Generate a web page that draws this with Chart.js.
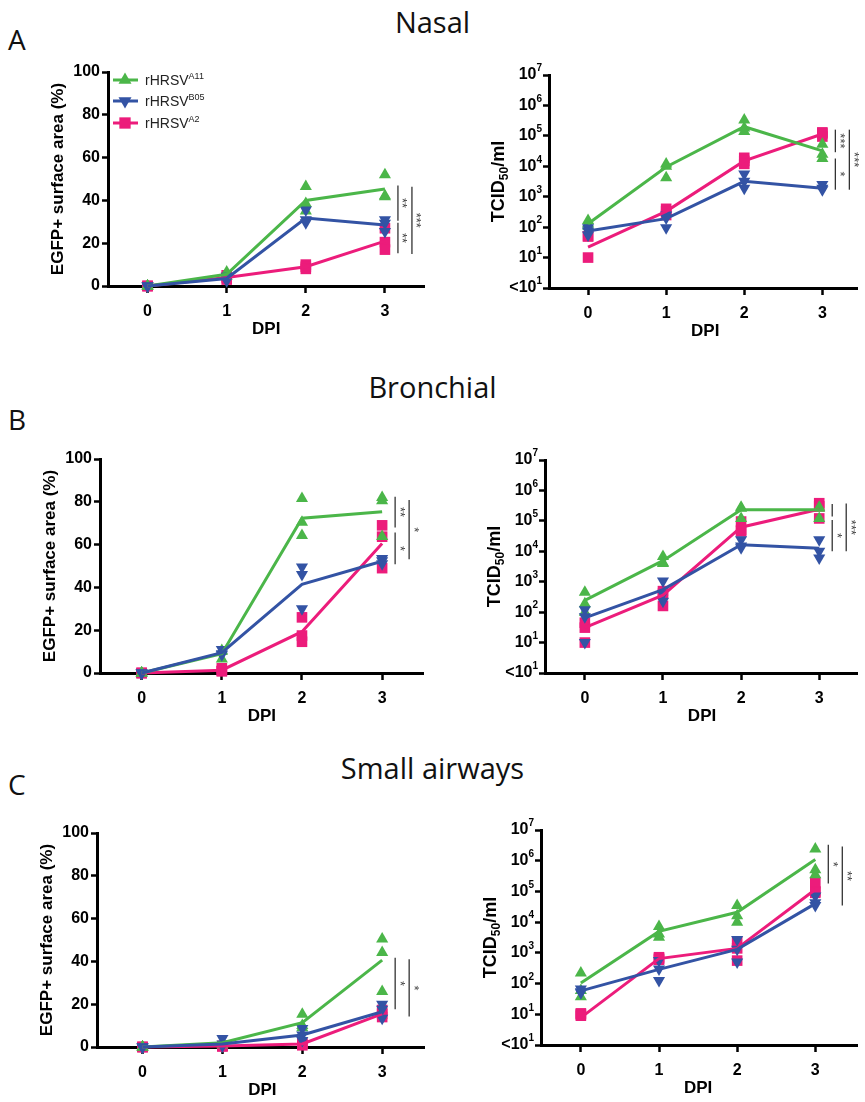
<!DOCTYPE html>
<html>
<head>
<meta charset="utf-8">
<title>rHRSV in nasal, bronchial and small airway cultures</title>
<script src="https://cdn.jsdelivr.net/npm/chart.js@4.4.1/dist/chart.umd.min.js"></script>
<style>
  body { margin: 0; background: #fff; }
  #figure { position: relative; width: 865px; height: 1102px; overflow: hidden; font-family: "Open Sans", sans-serif; color: #111; }
  #figure canvas { position: absolute; }
  .rowTitle { position: absolute; left: 0; width: 865px; text-align: center; font-size: 29px; line-height: 1; }
  .panelLetter { position: absolute; left: 8px; font-size: 28px; line-height: 1; }
</style>
</head>
<body>
<div id="figure">
  <div class="panelLetter" style="top:25px">A</div>
  <div class="rowTitle" style="top:7px">Nasal</div>
  <div class="panelLetter" style="top:405px">B</div>
  <div class="rowTitle" style="top:372px">Bronchial</div>
  <div class="panelLetter" style="top:770px">C</div>
  <div class="rowTitle" style="top:753px">Small airways</div>

  <canvas id="nasalEgfp"></canvas>
  <canvas id="nasalTcid"></canvas>
  <canvas id="bronchialEgfp"></canvas>
  <canvas id="bronchialTcid"></canvas>
  <canvas id="smallEgfp"></canvas>
  <canvas id="smallTcid"></canvas>
</div>
<script>
// days post infection and axis ticks
const dpi = [0, 1, 2, 3];
const strainNames = ['A11', 'B05', 'A2'];
const xTickValues = [0, 1, 2, 3];
const egfpTickValues = [0, 20, 40, 60, 80, 100];
const tcidTickValues = [1, 10, 100, 1e3, 1e4, 1e5, 1e6, 1e7];

// Nasal - EGFP+ surface area (%)
const nasalEgfpA11Mean = [0, 5.5, 40, 45.3];
const nasalEgfpA11Reps = [[0, 0, 0], [6.5, 5.5, 4.5], [46.5, 38.5, 35], [52, 42.2, 41.7]];
const nasalEgfpB05Mean = [0, 3.5, 31.8, 28.5];
const nasalEgfpB05Reps = [[0, 0, 0], [4.5, 3.5, 2.5], [35.5, 31, 29.5], [31, 29.3, 25.5]];
const nasalEgfpA2Mean = [0, 4, 9, 21];
const nasalEgfpA2Reps = [[0, 0, 0], [5, 4, 3], [10, 9, 8], [27, 20.5, 17]];

// Nasal - TCID50/ml
const nasalTcidA11Mean = [130, 9500, 2.0e5, 3.2e4];
const nasalTcidA11Reps = [[165, 130, 110], [1.2e4, 1.0e4, 4.2e3], [3.3e5, 1.8e5, 1.4e5], [5.3e4, 2.5e4, 1.8e4]];
const nasalTcidB05Mean = [75, 190, 3.2e3, 1.9e3];
const nasalTcidB05Reps = [[95, 75, 55], [250, 200, 95], [5.6e3, 3.2e3, 1.9e3], [2.5e3, 1.9e3, 1.7e3]];
const nasalTcidA2Mean = [22, 330, 1.5e4, 1.15e5];
const nasalTcidA2Reps = [[50, 50, 10], [400, 330, 250], [1.9e4, 1.5e4, 1.2e4], [1.3e5, 1.2e5, 9.5e4]];

// Bronchial - EGFP+ surface area (%)
const bronchialEgfpA11Mean = [0, 9, 72.3, 75.4];
const bronchialEgfpA11Reps = [[0, 0, 0], [10.5, 10, 6.5], [81.5, 70.5, 64.2], [82, 80.5, 63.8]];
const bronchialEgfpB05Mean = [0, 9.5, 41.4, 52.2];
const bronchialEgfpB05Reps = [[0, 0, 0], [11, 9, 8.5], [49.5, 46, 30], [53.5, 52.5, 51]];
const bronchialEgfpA2Mean = [0, 1.3, 19.3, 60.5];
const bronchialEgfpA2Reps = [[0, 0, 0], [2.2, 1, 0.8], [26, 17.5, 14.6], [69, 63.7, 49]];

// Bronchial - TCID50/ml
const bronchialTcidA11Mean = [245, 4.9e3, 2.3e5, 2.3e5];
const bronchialTcidA11Reps = [[450, 190, 100], [6.8e3, 4.2e3, 4.0e3], [2.8e5, 2.6e5, 1.2e5], [2.8e5, 2.6e5, 1.2e5]];
const bronchialTcidB05Mean = [65, 550, 1.65e4, 1.25e4];
const bronchialTcidB05Reps = [[120, 70, 10], [1.05e3, 400, 230], [2.4e4, 1.5e4, 1.3e4], [2.4e4, 1.0e4, 6.0e3]];
const bronchialTcidA2Mean = [31, 360, 6.2e4, 2.4e5];
const bronchialTcidA2Reps = [[45, 31, 10], [490, 400, 160], [9.5e4, 5.0e4, 4.5e4], [3.8e5, 3.0e5, 1.2e5]];

// Small airways - EGFP+ surface area (%)
const smallEgfpA11Mean = [0, 2, 11.4, 40.6];
const smallEgfpA11Reps = [[0, 0, 0], [2, 1.5, 1], [15.3, 10, 9], [50.5, 44.2, 25.9]];
const smallEgfpB05Mean = [0, 1.4, 5.6, 16.5];
const smallEgfpB05Reps = [[0, 0, 0], [4, 1.4, 0.5], [8.7, 5.6, 3], [20, 17.6, 13.4]];
const smallEgfpA2Mean = [0, 0.5, 1.4, 15.5];
const smallEgfpA2Reps = [[0, 0, 0], [0.5, 0.4, 0.3], [1.7, 1.4, 0.8], [17.3, 15.5, 14]];

// Small airways - TCID50/ml
const smallTcidA11Mean = [105, 5.0e3, 2.1e4, 1.1e6];
const smallTcidA11Reps = [[220, 60, 37], [7.2e3, 4.1e3, 3.2e3], [3.5e4, 1.6e4, 1.0e4], [2.4e6, 5.1e5, 3.5e5]];
const smallTcidB05Mean = [58, 290, 1.3e3, 4.0e4];
const smallTcidB05Reps = [[66, 54, 50], [560, 300, 125], [2.7e3, 1.3e3, 500], [7.1e4, 4.3e4, 3.5e4]];
const smallTcidA2Mean = [7.8, 650, 1.4e3, 1.15e5];
const smallTcidA2Reps = [[10.7, 10, 9], [720, 650, 600], [2.2e3, 1.4e3, 560], [1.9e5, 1.0e5, 9e4]];

// significance brackets at day 3 (lane 0 = inner, lane 1 = outer)
const nasalEgfpSig = [{ from: 47, to: 30.5, label: '**', lane: 0 }, { from: 29.5, to: 15.3, label: '**', lane: 0 }, { from: 46.4, to: 15, label: '***', lane: 1 }];
const nasalTcidSig = [{ from: 1.6e5, to: 2.9e4, label: '***', lane: 0 }, { from: 1.8e4, to: 1.7e3, label: '*', lane: 0 }, { from: 1.6e5, to: 1.7e3, label: '***', lane: 1 }];
const bronchialEgfpSig = [{ from: 82.4, to: 68, label: '**', lane: 0 }, { from: 65.6, to: 50.8, label: '*', lane: 0 }, { from: 80.8, to: 53.1, label: '*', lane: 1 }];
const bronchialTcidSig = [{ from: 3.6e5, to: 1.4e5, label: '', lane: 0 }, { from: 1.07e5, to: 1.0e4, label: '*', lane: 0 }, { from: 3.7e5, to: 1.0e4, label: '***', lane: 1 }];
const smallEgfpSig = [{ from: 41.7, to: 17.6, label: '*', lane: 0 }, { from: 41, to: 14.2, label: '*', lane: 1 }];
const smallTcidSig = [{ from: 3.3e6, to: 1.8e5, label: '*', lane: 0 }, { from: 2.9e6, to: 3.5e4, label: '**', lane: 1 }];

// ---- styling ----
const FONT = '"Liberation Sans", Arial, Helvetica, sans-serif';
const Y_BOX = 80;   // width reserved for y ticks + title
const X_BOX = 45;   // height reserved for x ticks + title
const seriesStyles = [
    { color: '#4bb649', pointStyle: 'triangle', rotation: 0 },
    { color: '#3353a4', pointStyle: 'triangle', rotation: 180 },
    { color: '#ec1c7b', pointStyle: 'rect', rotation: 0, radius: 7.5 }
];

function toPoints(values) {
    return values.map((v, i) => ({ x: dpi[i], y: v }));
}
function repsToPoints(perDay) {
    const pts = [];
    perDay.forEach((vals, i) => vals.forEach(v => pts.push({ x: dpi[i], y: v })));
    return pts;
}

function buildDatasets(means, reps) {
    const sets = [];
    // draw order: pink under green under blue, mean lines above replicates
    const pointOrder = [5, 4, 6];
    const lineOrder = [2, 1, 3];
    means.forEach((mean, s) => {
        const st = seriesStyles[s];
        sets.push({
            label: 'rHRSV ' + strainNames[s] + ' replicates',
            data: repsToPoints(reps[s]),
            showLine: false,
            pointStyle: st.pointStyle,
            rotation: st.rotation,
            pointRadius: st.radius || 7,
            backgroundColor: st.color,
            borderColor: st.color,
            pointBorderWidth: 0,
            clip: false,
            order: pointOrder[s]
        });
        sets.push({
            label: 'rHRSV ' + strainNames[s],
            data: toPoints(mean),
            showLine: true,
            pointRadius: 0,
            borderColor: st.color,
            borderWidth: 3,
            tension: 0,
            clip: false,
            order: lineOrder[s]
        });
    });
    return sets;
}

// draws "10" with a raised exponent, right-aligned at xRight
function drawPower(ctx, base, exp, xRight, yMid, size) {
    const big = 'bold ' + size + 'px ' + FONT;
    const small = 'bold ' + Math.round(size * 0.65) + 'px ' + FONT;
    ctx.font = small;
    const ew = ctx.measureText(exp).width;
    ctx.font = big;
    const bw = ctx.measureText(base).width;
    ctx.textAlign = 'left';
    ctx.textBaseline = 'middle';
    ctx.fillText(base, xRight - ew - bw, yMid);
    ctx.font = small;
    ctx.fillText(exp, xRight - ew, yMid - size * 0.4);
}

const figureExtras = {
    id: 'figureExtras',
    afterDraw(chart, args, o) {
        const ctx = chart.ctx;
        const a = chart.chartArea;
        const xs = chart.scales.x;
        const ys = chart.scales.y;
        ctx.save();
        ctx.fillStyle = '#000';

        // log tick labels with superscripts
        if (o.logTicks) {
            tcidTickValues.forEach(v => {
                const py = ys.getPixelForValue(v);
                const e = Math.round(Math.log10(v));
                if (v === 1) drawPower(ctx, '<10', '1', a.left - 7, py, 16);
                else drawPower(ctx, '10', String(e), a.left - 7, py, 16);
            });
        }

        // y axis title
        ctx.save();
        ctx.translate(a.left - 51, (a.top + a.bottom) / 2);
        ctx.rotate(-Math.PI / 2);
        ctx.textBaseline = 'alphabetic';
        if (o.yTitle === 'tcid') {
            const parts = [
                { t: 'TCID', f: 'bold 18px ' + FONT, dy: 0 },
                { t: '50', f: 'bold 12px ' + FONT, dy: 4 },
                { t: '/ml', f: 'bold 18px ' + FONT, dy: 0 }
            ];
            let total = 0;
            parts.forEach(p => { ctx.font = p.f; p.w = ctx.measureText(p.t).width; total += p.w; });
            let cx = -total / 2;
            ctx.textAlign = 'left';
            parts.forEach(p => { ctx.font = p.f; ctx.fillText(p.t, cx, 6 + p.dy); cx += p.w; });
        } else {
            ctx.font = 'bold 17px ' + FONT;
            ctx.textAlign = 'center';
            ctx.fillText('EGFP+ surface area (%)', 0, 6);
        }
        ctx.restore();

        // x axis title
        ctx.font = 'bold 17px ' + FONT;
        ctx.textAlign = 'center';
        ctx.textBaseline = 'middle';
        ctx.fillText('DPI', xs.getPixelForValue(1.5), a.bottom + 43);

        // significance brackets
        (o.brackets || []).forEach(b => {
            const bx = xs.getPixelForValue(3) + (b.lane === 0 ? 13 : 27);
            const y1 = ys.getPixelForValue(b.from);
            const y2 = ys.getPixelForValue(b.to);
            ctx.strokeStyle = '#333';
            ctx.lineWidth = 1.3;
            ctx.beginPath();
            ctx.moveTo(bx, y1);
            ctx.lineTo(bx, y2);
            ctx.stroke();
            if (b.label) {
                ctx.save();
                ctx.translate(bx + 4, (y1 + y2) / 2);
                ctx.rotate(Math.PI / 2);
                ctx.font = '13px ' + FONT;
                ctx.fillStyle = '#444';
                ctx.textAlign = 'center';
                ctx.textBaseline = 'middle';
                ctx.fillText(b.label, 0, 0);
                ctx.restore();
            }
        });

        // legend (first panel only)
        if (o.legend) {
            const rows = [8, 29, 51];
            seriesStyles.forEach((st, s) => {
                const ly = a.top + rows[s];
                ctx.strokeStyle = st.color;
                ctx.fillStyle = st.color;
                ctx.lineWidth = 3;
                ctx.beginPath();
                ctx.moveTo(a.left + 5, ly);
                ctx.lineTo(a.left + 30, ly);
                ctx.stroke();
                Chart.helpers.drawPoint(ctx, {
                    pointStyle: st.pointStyle, rotation: st.rotation,
                    radius: (st.radius || 7) + 0.5, borderWidth: 0
                }, a.left + 17, ly);
                ctx.fillStyle = '#222';
                ctx.textAlign = 'left';
                ctx.textBaseline = 'alphabetic';
                ctx.font = '14px ' + FONT;
                ctx.fillText('rHRSV', a.left + 37, ly + 5);
                const w = ctx.measureText('rHRSV').width;
                ctx.font = '9px ' + FONT;
                ctx.fillText(strainNames[s], a.left + 37 + w, ly - 1);
            });
        }
        ctx.restore();
    }
};

function makePanel(id, cell, area, xMin, xMax, isLog, means, reps, brackets, legend) {
    const canvas = document.getElementById(id);
    canvas.width = cell.w;
    canvas.height = cell.h;
    canvas.style.left = cell.x + 'px';
    canvas.style.top = cell.y + 'px';
    canvas.style.width = cell.w + 'px';
    canvas.style.height = cell.h + 'px';

    const padding = {
        left: area.left - cell.x - Y_BOX,
        top: area.top - cell.y,
        right: cell.x + cell.w - area.right,
        bottom: cell.y + cell.h - area.bottom - X_BOX
    };
    const axisBorder = { display: true, color: '#000', width: 3 };
    const tickGrid = { drawOnChartArea: false, drawTicks: true, tickLength: 6, tickWidth: 2.5, tickColor: '#000' };

    const yScale = isLog ? {
        type: 'logarithmic', min: 1, max: 1e7,
        afterBuildTicks: s => { s.ticks = tcidTickValues.map(v => ({ value: v })); },
        ticks: { display: false }
    } : {
        type: 'linear', min: 0, max: 100,
        afterBuildTicks: s => { s.ticks = egfpTickValues.map(v => ({ value: v })); },
        ticks: { color: '#000', padding: 2, font: { family: FONT, size: 16, weight: 'bold' } }
    };
    yScale.afterFit = s => { s.width = Y_BOX; };
    yScale.border = axisBorder;
    yScale.grid = tickGrid;

    return new Chart(canvas.getContext('2d'), {
        type: 'scatter',
        data: { datasets: buildDatasets(means, reps) },
        options: {
            responsive: false,
            animation: false,
            devicePixelRatio: 1,
            events: [],
            layout: { padding: padding },
            plugins: {
                legend: { display: false },
                tooltip: { enabled: false },
                figureExtras: { logTicks: isLog, yTitle: isLog ? 'tcid' : 'egfp', brackets: brackets, legend: legend }
            },
            scales: {
                x: {
                    type: 'linear', min: xMin, max: xMax,
                    afterBuildTicks: s => { s.ticks = xTickValues.map(v => ({ value: v })); },
                    afterFit: s => { s.height = X_BOX; },
                    border: axisBorder,
                    grid: { drawOnChartArea: false, drawTicks: true, tickLength: 7, tickWidth: 2.5, tickColor: '#000' },
                    ticks: { color: '#000', padding: 9, maxRotation: 0, font: { family: FONT, size: 16, weight: 'bold' } }
                },
                y: yScale
            }
        },
        plugins: [figureExtras]
    });
}

const leftCol = { x: 0, w: 432 };
const rightCol = { x: 432, w: 433 };
const rowA = { y: 40, h: 305 };
const rowB = { y: 420, h: 305 };
const rowC = { y: 790, h: 312 };
const cell = (c, r) => ({ x: c.x, w: c.w, y: r.y, h: r.h });

makePanel('nasalEgfp', cell(leftCol, rowA), { left: 108, top: 72, bottom: 286, right: 430 }, -0.5, 3.5, false,
    [nasalEgfpA11Mean, nasalEgfpB05Mean, nasalEgfpA2Mean],
    [nasalEgfpA11Reps, nasalEgfpB05Reps, nasalEgfpA2Reps], nasalEgfpSig, true);
makePanel('nasalTcid', cell(rightCol, rowA), { left: 549, top: 75, bottom: 288, right: 865 }, -0.5, 3.45, true,
    [nasalTcidA11Mean, nasalTcidB05Mean, nasalTcidA2Mean],
    [nasalTcidA11Reps, nasalTcidB05Reps, nasalTcidA2Reps], nasalTcidSig, false);
makePanel('bronchialEgfp', cell(leftCol, rowB), { left: 100, top: 459, bottom: 673, right: 423 }, -0.52, 3.51, false,
    [bronchialEgfpA11Mean, bronchialEgfpB05Mean, bronchialEgfpA2Mean],
    [bronchialEgfpA11Reps, bronchialEgfpB05Reps, bronchialEgfpA2Reps], bronchialEgfpSig, false);
makePanel('bronchialTcid', cell(rightCol, rowB), { left: 545, top: 460, bottom: 673, right: 865 }, -0.51, 3.49, true,
    [bronchialTcidA11Mean, bronchialTcidB05Mean, bronchialTcidA2Mean],
    [bronchialTcidA11Reps, bronchialTcidB05Reps, bronchialTcidA2Reps], bronchialTcidSig, false);
makePanel('smallEgfp', cell(leftCol, rowC), { left: 97, top: 833, bottom: 1047, right: 425 }, -0.57, 3.53, false,
    [smallEgfpA11Mean, smallEgfpB05Mean, smallEgfpA2Mean],
    [smallEgfpA11Reps, smallEgfpB05Reps, smallEgfpA2Reps], smallEgfpSig, false);
makePanel('smallTcid', cell(rightCol, rowC), { left: 541, top: 830, bottom: 1045, right: 865 }, -0.51, 3.54, true,
    [smallTcidA11Mean, smallTcidB05Mean, smallTcidA2Mean],
    [smallTcidA11Reps, smallTcidB05Reps, smallTcidA2Reps], smallTcidSig, false);
</script>
</body>
</html>
